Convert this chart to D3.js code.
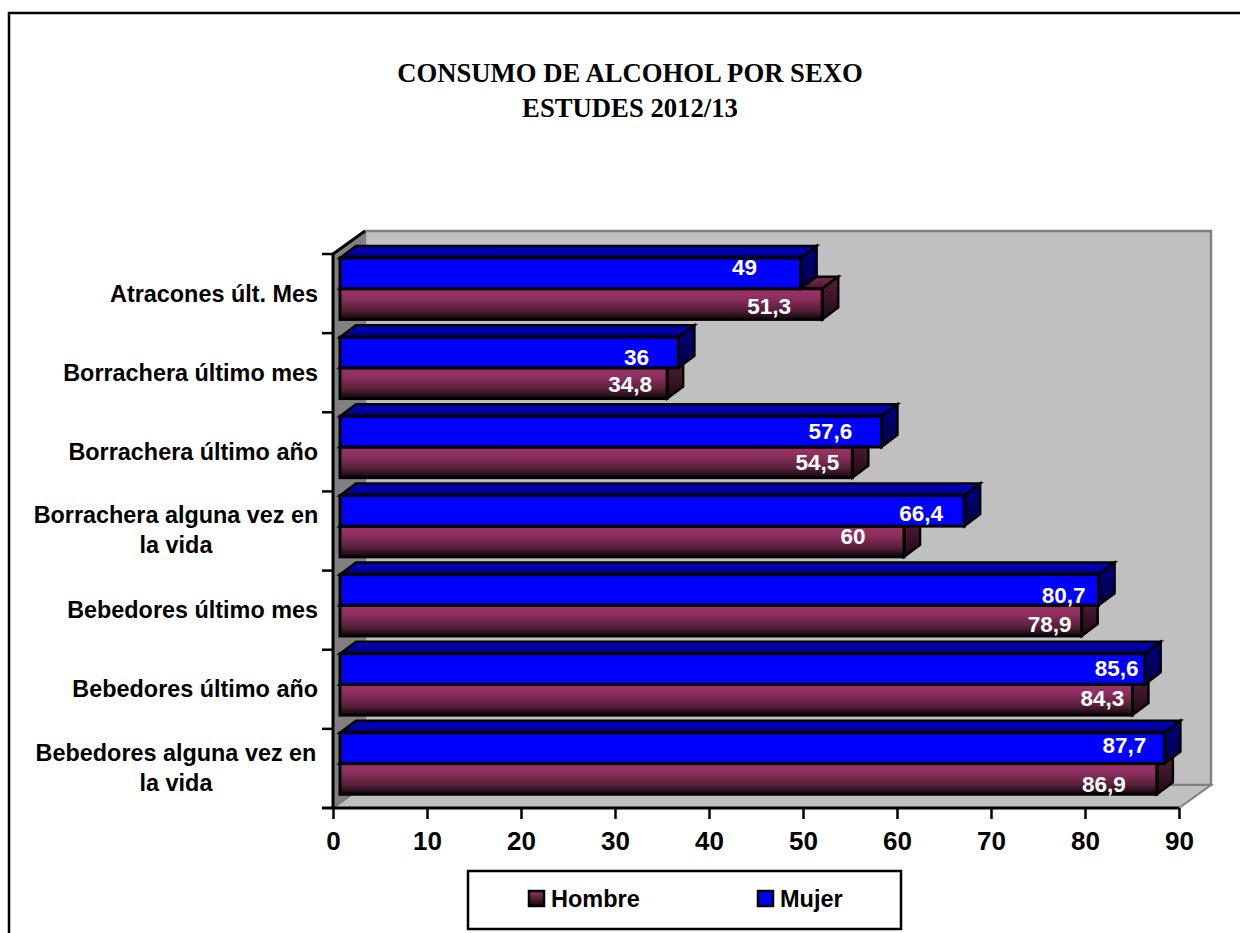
<!DOCTYPE html>
<html><head><meta charset="utf-8">
<style>html,body{margin:0;padding:0;background:#fff;overflow:hidden}svg{display:block}</style>
<script src="https://cdn.jsdelivr.net/npm/d3@7"></script></head>
<body><svg id="c" width="1240" height="933"></svg>
<script>
const categories=["Atracones últ. Mes","Borrachera último mes","Borrachera último año","Borrachera alguna vez en la vida","Bebedores último mes","Bebedores último año","Bebedores alguna vez en la vida"];
const hombre=[51.3,34.8,54.5,60,78.9,84.3,86.9];
const mujer=[49,36,57.6,66.4,80.7,85.6,87.7];
const seriesNames=["Hombre","Mujer"];
const xTicks=[0,10,20,30,40,50,60,70,80,90];
const titleLines=["CONSUMO DE ALCOHOL POR SEXO","ESTUDES 2012/13"];
// label placement as in the source picture [dx from bar end, dy from bar middle]
const hombreNudge=[[-53,2],[-37,1],[-35,0],[-51,-5],[-32,4],[-30,-2],[-53,5]];
const mujerNudge=[[-56,-6],[-42,5],[-51,-1],[-43,2],[-35,5],[-28,-1],[-40,-3]];

const svg=d3.select("#c");
const x=d3.scaleLinear().domain([0,90]).range([333,1179]);
const y=d3.scaleBand().domain(categories).range([254,808]);
const WX=32,WY=23,BX=16,BY=12,OX=7;
const fmt=v=>String(v).replace(".",",");
const defs=svg.append("defs");
function grad(id,stops){const g=defs.append("linearGradient").attr("id",id).attr("x1",0).attr("y1",0).attr("x2",0).attr("y2",1);
 stops.forEach(s=>g.append("stop").attr("offset",s[0]).attr("stop-color",s[1]));}
grad("hF",[[0,"#993366"],[.3,"#8e2f5e"],[.7,"#552039"],[1,"#120509"]]);
grad("hT",[[0,"#7a2952"],[1,"#4d1a33"]]);
grad("hS",[[0,"#5c1f3d"],[1,"#1f0a14"]]);
grad("mT",[[0,"#0000c8"],[.6,"#0000a0"],[1,"#000050"]]);
grad("mS",[[0,"#000080"],[1,"#000048"]]);
grad("lg",[[0,"#993366"],[1,"#120509"]]);

// frame: only the top and left edges fall inside the picture
svg.append("rect").attr("x",9).attr("y",13).attr("width",1300).attr("height",1000).attr("fill","#fff").attr("stroke","#000").attr("stroke-width",2.5);
// title
const T=svg.append("text").attr("text-anchor","middle").attr("font-family","Liberation Serif").attr("font-weight","bold").attr("font-size",26.7);
titleLines.forEach((t,i)=>T.append("tspan").attr("x",630).attr("y",82+i*35).text(t));

const x0=x(0),x1=x(90),yT=y.range()[0],yB=y.range()[1];
const poly=(pts,f,s,w)=>svg.append("polygon").attr("points",pts.map(p=>p.join(",")).join(" ")).attr("fill",f).attr("stroke",s||"none").attr("stroke-width",w||0).attr("stroke-linejoin","miter");
// walls
poly([[x0+WX,yT-WY],[x1+WX,yT-WY],[x1+WX,yB-WY],[x0+WX,yB-WY]],"#C0C0C0","#808080",2.5);
poly([[x0,yB],[x0+WX,yB-WY],[x1+WX,yB-WY],[x1,yB]],"#C0C0C0","#808080",2);
poly([[x0,yT],[x0+WX,yT-WY],[x0+WX,yB-WY],[x0,yB]],"#808080");
svg.append("line").attr("x1",x0).attr("y1",yB).attr("x2",x0+WX).attr("y2",yB-WY).attr("stroke","#6e6e6e").attr("stroke-width",1);
svg.append("line").attr("x1",x0).attr("y1",yT).attr("x2",x0+WX).attr("y2",yT-WY).attr("stroke","#000").attr("stroke-width",3);

// bars
const BARH=30.7,TOPIN=4;
function bar(cat,v,row,fill){
 const l=x(0)+OX, r=x(v)+OX, t=y(cat)+TOPIN+row*BARH, b=t+BARH;
 poly([[l,t],[l+BX,t-BY],[r+BX,t-BY],[r,t]],fill.top,"#000",2.5);
 poly([[r,t],[r+BX,t-BY],[r+BX,b-BY],[r,b]],fill.side,"#000",2.5);
 svg.append("rect").attr("x",l).attr("y",t).attr("width",r-l).attr("height",BARH).attr("fill",fill.front).attr("stroke","#000").attr("stroke-width",3);
}
categories.forEach((c,i)=>{
 bar(c,hombre[i],1,{top:"url(#hT)",side:"url(#hS)",front:"url(#hF)"});
 bar(c,mujer[i],0,{top:"url(#mT)",side:"url(#mS)",front:"#0000FF"});
});
// value labels
const lab=(c,v,row,n)=>svg.append("text").attr("x",x(v)+OX+n[0]).attr("y",y(c)+TOPIN+row*BARH+BARH/2+n[1]).attr("dy","0.35em").attr("text-anchor","middle")
 .attr("font-family","Liberation Sans").attr("font-weight","bold").attr("font-size",22.5).attr("fill","#fff").text(fmt(v));
categories.forEach((c,i)=>{lab(c,hombre[i],1,hombreNudge[i]);lab(c,mujer[i],0,mujerNudge[i]);});

// x axis
const ax=svg.append("g").attr("transform",`translate(0,${yB})`).call(d3.axisBottom(x).tickValues(xTicks).tickSize(11).tickPadding(13).tickFormat(d3.format("d")));
ax.select(".domain").attr("stroke","#000").attr("stroke-width",3).attr("d",`M${x0-11},0H${x1}`);
ax.selectAll(".tick line").attr("stroke","#000").attr("stroke-width",2.5);
ax.selectAll("text").attr("font-family","Liberation Sans").attr("font-weight","bold").attr("font-size",26).attr("fill","#000");
// y axis
svg.append("line").attr("x1",x0).attr("x2",x0).attr("y1",yT).attr("y2",yB).attr("stroke","#000").attr("stroke-width",3);
categories.forEach(c=>svg.append("line").attr("x1",x0-11).attr("x2",x0).attr("y1",y(c)).attr("y2",y(c)).attr("stroke","#000").attr("stroke-width",2.5));
// category labels
const wrap={ "Borrachera alguna vez en la vida":["Borrachera alguna vez en","la vida"],"Bebedores alguna vez en la vida":["Bebedores alguna vez en","la vida"]};
categories.forEach(c=>{
 const lines=wrap[c]||[c], cy=y(c)+y.bandwidth()/2-(lines.length>1?1:0);
 const t=svg.append("text").attr("text-anchor","middle").attr("font-family","Liberation Sans").attr("font-weight","bold").attr("font-size",23.4).attr("fill","#000");
 lines.forEach((s,i)=>t.append("tspan").attr("x",lines.length>1?176:0).attr("y",cy+(i-(lines.length-1)/2)*30).attr("dy","0.35em").text(s));
 if(lines.length==1){t.attr("text-anchor","end");t.selectAll("tspan").attr("x",318);}
});
// legend
svg.append("rect").attr("x",468).attr("y",871).attr("width",433).attr("height",58).attr("fill","#fff").attr("stroke","#000").attr("stroke-width",2.5);
[[seriesNames[0],529,"url(#lg)"],[seriesNames[1],758,"#0000FF"]].forEach(d=>{
 svg.append("rect").attr("x",d[1]).attr("y",891).attr("width",15).attr("height",15).attr("fill",d[2]).attr("stroke","#000").attr("stroke-width",2.5);
 svg.append("text").attr("x",d[1]+(d[0]=="Mujer"?22:22)).attr("y",899).attr("dy","0.35em").attr("font-family","Liberation Sans").attr("font-weight","bold").attr("font-size",23.5).text(d[0]);
});
</script></body></html>
